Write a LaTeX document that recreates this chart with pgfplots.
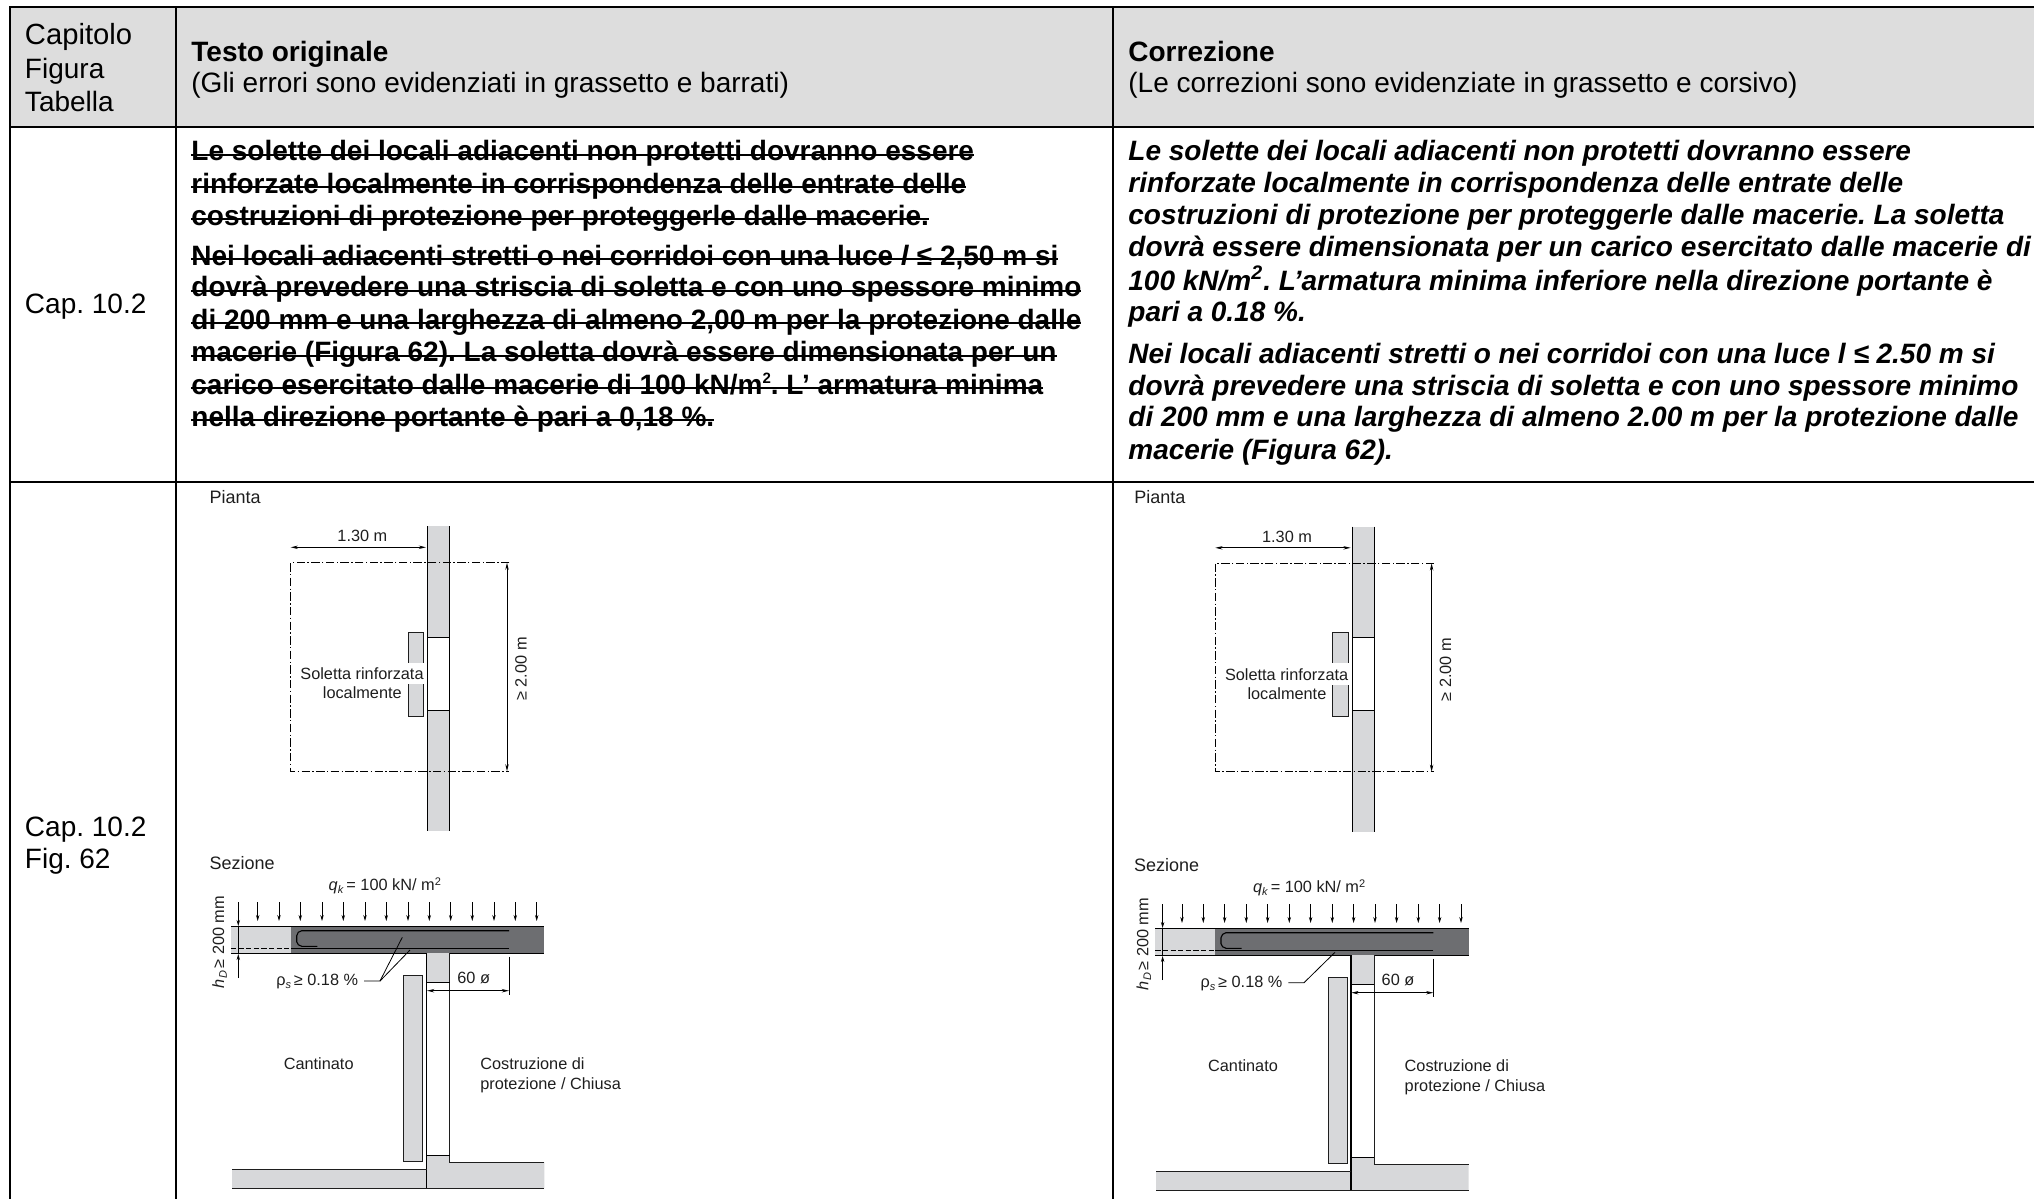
\documentclass[border=0pt]{standalone}
\usepackage{fontspec}
\setmainfont{Liberation Sans}
\usepackage{pgfplots}
\pgfplotsset{compat=1.18}
\usetikzlibrary{arrows.meta}
\frenchspacing
\definecolor{hdr}{HTML}{DDDDDD}
\definecolor{wall}{HTML}{D7D8DA}
\definecolor{dark}{HTML}{6D6E71}
\definecolor{ink}{HTML}{1E1E1E}
\newcommand\st[1]{\leavevmode\setbox0=\hbox{#1}\rlap{\copy0}\raisebox{2.5pt}{\rule{\wd0}{1pt}}}
\newcommand\tx[3]{\node[anchor=base west,inner sep=0pt,font=\fontsize{14pt}{16pt}\selectfont] at (axis cs:#1,#2) {#3};}
\newcommand\lb[4][base west]{\node[anchor=#1,inner sep=0pt,text=ink,font=\fontsize{8.15pt}{10pt}\selectfont] at (axis cs:#2,#3) {#4};}
\pgfplotsset{off/.style 2 args={x filter/.expression={x+#1},y filter/.expression={y+#2}},
  dim/.style={line width=0.45pt,{Stealth[length=3.6pt,width=1.7pt]}-{Stealth[length=3.6pt,width=1.7pt]}},
  load/.style={line width=0.4pt,-{Stealth[length=3pt,width=1.7pt]}},
  dd/.style={line width=0.45pt,dash pattern=on 4.2pt off 1.2pt on 0.7pt off 1.2pt}}
\newcommand\plan[2]{%
 \addplot[fill=wall,draw=none,off={#1}{#2}] coordinates {(427.7,526)(449.7,526)(449.7,637.3)(427.7,637.3)} -- cycle;
 \addplot[fill=wall,draw=none,off={#1}{#2}] coordinates {(427.7,710)(449.7,710)(449.7,831)(427.7,831)} -- cycle;
 \addplot[line width=0.6pt,off={#1}{#2}] coordinates {(427.7,526)(427.7,831)};
 \addplot[line width=0.6pt,off={#1}{#2}] coordinates {(449.7,526)(449.7,831)};
 \addplot[line width=0.5pt,off={#1}{#2}] coordinates {(427.7,637.3)(449.7,637.3)};
 \addplot[line width=0.5pt,off={#1}{#2}] coordinates {(427.7,710)(449.7,710)};
 \addplot[dd,off={#1}{#2}] coordinates {(509.3,562.7)(290.7,562.7)(290.7,771.3)(509.3,771.3)};
 \addplot[dim,off={#1}{#2}] coordinates {(290.7,547.3)(426,547.3)};
 \addplot[dim,off={#1}{#2}] coordinates {(507,562.7)(507,771.3)};
 \addplot[fill=wall,draw=ink,line width=0.35pt,off={#1}{#2}] coordinates {(408,632)(423.7,632)(423.7,716)(408,716)} -- cycle;
 \addplot[fill=white,draw=none,off={#1}{#2}] coordinates {(301,662.7)(424.2,662.7)(424.2,684)(301,684)} -- cycle;
 \lb[base]{#1+362.4}{#2+541.5}{1.30 m}
 \lb[base]{#1+362}{#2+679.5}{Soletta rinforzata}
 \lb[base]{#1+362.3}{#2+698.5}{localmente}
 \node[rotate=90,anchor=base,inner sep=0pt,text=ink,font=\fontsize{8.15pt}{10pt}\selectfont] at (axis cs:#1+526.5,#2+669) {≥ 2.00 m};
 \node[anchor=base west,inner sep=0pt,text=ink,font=\fontsize{9pt}{10pt}\selectfont] at (axis cs:#1+209.3,#2+503) {Pianta};
}
\newcommand\sect[2]{%
 \addplot[fill=wall,draw=none,off={#1}{#2}] coordinates {(231,926.7)(291,926.7)(291,953.3)(231,953.3)} -- cycle;
 \addplot[fill=dark,draw=none,off={#1}{#2}] coordinates {(291,926.7)(544.3,926.7)(544.3,953.3)(291,953.3)} -- cycle;
 \addplot[line width=0.6pt,off={#1}{#2}] coordinates {(231,926.7)(544.3,926.7)};
 \addplot[line width=0.6pt,off={#1}{#2}] coordinates {(231,953.3)(544.3,953.3)};
 \addplot[line width=0.55pt,off={#1}{#2}] coordinates {(509,930.7)(301.7,930.7)(298.3,932.3)(296.7,935.7)(296.7,941.7)(298.3,944.7)(301.7,946.3)(317.3,946.3)};
 \addplot[line width=0.55pt,off={#1}{#2}] coordinates {(291,948.7)(509,948.7)};
 \addplot[line width=0.5pt,dash pattern=on 2.6pt off 1.2pt,off={#1}{#2}] coordinates {(231,948.7)(291,948.7)};
 % load arrows
 \addplot[load,off={#1}{#2}] coordinates {(257.7,902)(257.7,921)};
 \addplot[load,off={#1}{#2}] coordinates {(279,902)(279,921)};
 \addplot[load,off={#1}{#2}] coordinates {(300.3,902)(300.3,921)};
 \addplot[load,off={#1}{#2}] coordinates {(322,902)(322,921)};
 \addplot[load,off={#1}{#2}] coordinates {(343.3,902)(343.3,921)};
 \addplot[load,off={#1}{#2}] coordinates {(365,902)(365,921)};
 \addplot[load,off={#1}{#2}] coordinates {(386.3,902)(386.3,921)};
 \addplot[load,off={#1}{#2}] coordinates {(408,902)(408,921)};
 \addplot[load,off={#1}{#2}] coordinates {(429.3,902)(429.3,921)};
 \addplot[load,off={#1}{#2}] coordinates {(450.7,902)(450.7,921)};
 \addplot[load,off={#1}{#2}] coordinates {(472.3,902)(472.3,921)};
 \addplot[load,off={#1}{#2}] coordinates {(494,902)(494,921)};
 \addplot[load,off={#1}{#2}] coordinates {(515.3,902)(515.3,921)};
 \addplot[load,off={#1}{#2}] coordinates {(536.7,902)(536.7,921)};
 \addplot[load,off={#1}{#2}] coordinates {(238.3,902)(238.3,926)};
 \addplot[load,off={#1}{#2}] coordinates {(238.3,978)(238.3,954)};
 \addplot[line width=0.4pt,off={#1}{#2}] coordinates {(238.3,926)(238.3,954)};
 % lower wall and floors
 \addplot[fill=wall,draw=none,off={#1}{#2}] coordinates {(426.7,953.3)(449.7,953.3)(449.7,982.7)(426.7,982.7)} -- cycle;
 \addplot[fill=wall,draw=none,off={#1}{#2}] coordinates {(426.7,1155.3)(449.7,1155.3)(449.7,1162)(544.3,1162)(544.3,1188.3)(426.7,1188.3)} -- cycle;
 \addplot[fill=wall,draw=none,off={#1}{#2}] coordinates {(232,1169.3)(426.7,1169.3)(426.7,1188.3)(232,1188.3)} -- cycle;
 \addplot[line width=0.55pt,off={#1}{#2}] coordinates {(426.7,953.3)(426.7,1188.3)};
 \addplot[line width=0.5pt,draw=ink,off={#1}{#2}] coordinates {(449.7,953.3)(449.7,1162)(544.3,1162)};
 \addplot[line width=0.45pt,off={#1}{#2}] coordinates {(426.7,982.7)(449.7,982.7)};
 \addplot[line width=0.45pt,off={#1}{#2}] coordinates {(426.7,1155.3)(449.7,1155.3)};
 \addplot[line width=0.5pt,draw=ink,off={#1}{#2}] coordinates {(232,1169.3)(426.7,1169.3)};
 \addplot[line width=0.5pt,draw=ink,off={#1}{#2}] coordinates {(232,1188.3)(544.3,1188.3)};
 \addplot[fill=wall,draw=ink,line width=0.45pt,off={#1}{#2}] coordinates {(403.7,975.3)(422.7,975.3)(422.7,1161.7)(403.7,1161.7)} -- cycle;
 \addplot[dim,off={#1}{#2}] coordinates {(427,990.7)(509,990.7)};
 \addplot[line width=0.4pt,off={#1}{#2}] coordinates {(509,956.7)(509,995)};
 \node[anchor=base west,inner sep=0pt,text=ink,font=\fontsize{9pt}{10pt}\selectfont] at (axis cs:#1+209.3,#2+869.5) {Sezione};
 \lb[base west]{#1+328.3}{#2+890.5}{\textit{q}\raisebox{-1.4pt}{\fontsize{5.5pt}{6pt}\selectfont\textit{k}}\,= 100 kN/ m\raisebox{2.7pt}{\fontsize{5.5pt}{6pt}\selectfont 2}}
 \lb[base west]{#1+276}{#2+985.5}{ρ\raisebox{-1.4pt}{\fontsize{5.5pt}{6pt}\selectfont\textit{s}}\,≥ 0.18 \%}
 \lb[base]{#1+473.7}{#2+983}{60 ø}
 \lb[base]{#1+318.7}{#2+1069.5}{Cantinato}
 \lb[base west]{#1+480}{#2+1069.5}{Costruzione di}
 \lb[base west]{#1+480}{#2+1089.5}{protezione / Chiusa}
 \node[rotate=90,anchor=base,inner sep=0pt,text=ink,font=\fontsize{8.15pt}{10pt}\selectfont] at (axis cs:#1+224,#2+942) {\textit{h}\raisebox{-1.4pt}{\fontsize{5.5pt}{6pt}\selectfont\textit{D}}\,≥ 200 mm};
}
\begin{document}
\begin{tikzpicture}
\begin{axis}[scale only axis,width=1017pt,height=599.5pt,xmin=0,xmax=2034,ymin=0,ymax=1199,y dir=reverse,hide axis,enlargelimits=false]
\addplot[draw=none] coordinates {(0,0)(2034,1199)};
% table
\addplot[fill=hdr,draw=none] coordinates {(10,7.3)(2034,7.3)(2034,126.7)(10,126.7)} -- cycle;
\addplot[line width=1.1pt] coordinates {(2034,7.3)(10,7.3)(10,1199)};
\addplot[line width=1.05pt] coordinates {(175.7,7.3)(175.7,1199)};
\addplot[line width=1.05pt] coordinates {(1113.3,7.3)(1113.3,1199)};
\addplot[line width=1.05pt] coordinates {(10,126.7)(2034,126.7)};
\addplot[line width=1.05pt] coordinates {(10,481.7)(2034,481.7)};
% first column
\tx{24.6}{44}{\fontsize{14.6pt}{16pt}\selectfont Capitolo}
\tx{24.6}{78.3}{Figura}
\tx{24.6}{111}{Tabella}
\tx{24.6}{313.3}{Cap. 10.2}
\tx{24.6}{836.7}{Cap. 10.2}
\tx{24.6}{868.3}{Fig. 62}
% headers
\tx{191}{61.3}{\textbf{Testo originale}}
\tx{191}{92.7}{(Gli errori sono evidenziati in grassetto e barrati)}
\tx{1128}{61.3}{\textbf{Correzione}}
\tx{1128}{92.7}{(Le correzioni sono evidenziate in grassetto e corsivo)}
% original text
\tx{191}{160.7}{\bfseries\st{Le solette dei locali adiacenti non protetti dovranno essere}}
\tx{191}{193.3}{\bfseries\st{rinforzate localmente in corrispondenza delle entrate delle}}
\tx{191}{225}{\bfseries\st{costruzioni di protezione per proteggerle dalle macerie.}}
\tx{191}{265}{\bfseries\st{Nei locali adiacenti stretti o nei corridoi con una luce \textit{l} ≤ 2,50 m si}}
\tx{191}{296.7}{\bfseries\st{dovrà prevedere una striscia di soletta e con uno spessore minimo}}
\tx{191}{329.3}{\bfseries\st{di 200 mm e una larghezza di almeno 2,00 m per la protezione dalle}}
\tx{191}{361.7}{\bfseries\st{macerie (Figura 62). La soletta dovrà essere dimensionata per un}}
\tx{191}{394}{\bfseries\st{carico esercitato dalle macerie di 100 kN/m\raisebox{5.4pt}{\fontsize{7.5pt}{8pt}\selectfont 2}. L’ armatura minima}}
\tx{191}{426}{\bfseries\st{nella direzione portante è pari a 0,18 \%.}}
% correction
\tx{1128}{160.5}{\bfseries\itshape Le solette dei locali adiacenti non protetti dovranno essere}
\tx{1128}{192.5}{\bfseries\itshape rinforzate localmente in corrispondenza delle entrate delle}
\tx{1128}{224.5}{\bfseries\itshape costruzioni di protezione per proteggerle dalle macerie. La soletta}
\tx{1128}{256.7}{\bfseries\itshape dovrà essere dimensionata per un carico esercitato dalle macerie di}
\tx{1128}{290}{\bfseries\itshape 100 kN/m\textsuperscript{2}. L’armatura minima inferiore nella direzione portante è}
\tx{1128}{321.7}{\bfseries\itshape pari a 0.18 \%.}
\tx{1128}{363.3}{\bfseries\itshape Nei locali adiacenti stretti o nei corridoi con una luce l ≤ 2.50 m si}
\tx{1128}{395}{\bfseries\itshape dovrà prevedere una striscia di soletta e con uno spessore minimo}
\tx{1128}{426.7}{\bfseries\itshape di 200 mm e una larghezza di almeno 2.00 m per la protezione dalle}
\tx{1128}{459.3}{\bfseries\itshape macerie (Figura 62).}
% diagrams
\plan{0}{0}
\plan{924.6}{0.5}
\sect{0}{0}
\sect{924.3}{2}
% leaders
\addplot[line width=0.4pt] coordinates {(364,981)(380,981)(402.3,937.3)};
\addplot[line width=0.4pt] coordinates {(380,981)(410,950)};
\addplot[line width=0.4pt] coordinates {(1288.3,982.7)(1304,982.7)(1335,952.3)};
\end{axis}
\end{tikzpicture}
\end{document}
